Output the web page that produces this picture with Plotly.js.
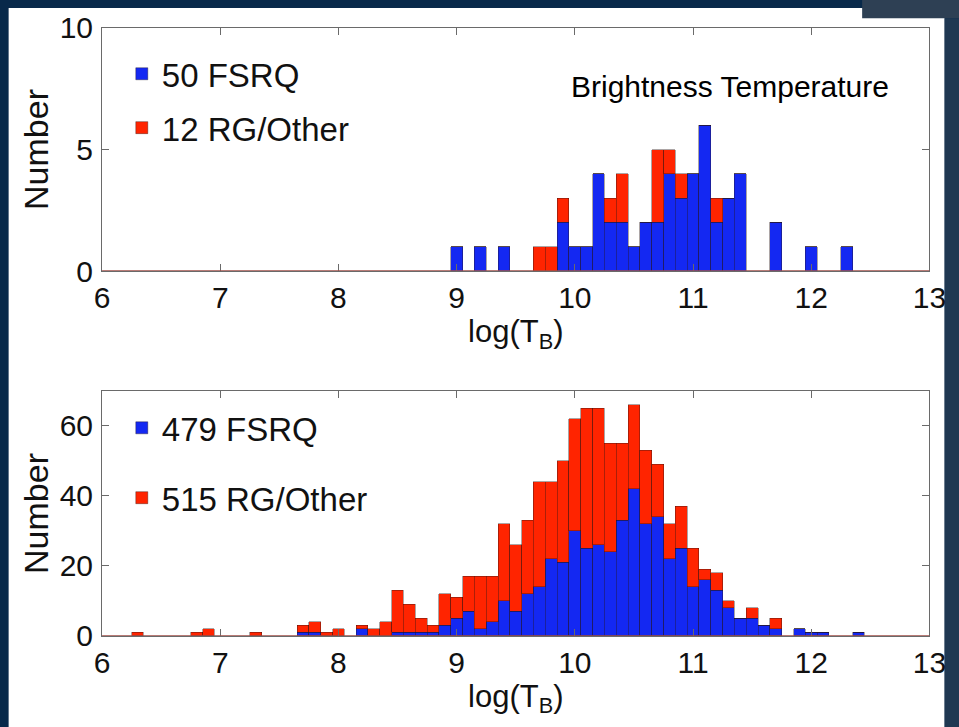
<!DOCTYPE html>
<html>
<head>
<meta charset="utf-8">
<script src="https://cdn.plot.ly/plotly-3.0.1.min.js"></script>
<style>
  html, body { margin: 0; padding: 0; background: #08294a; }
  #chart { width: 959px; height: 727px; }
</style>
</head>
<body>
<div id="chart"></div>
<script>
// Brightness temperature histograms, bin width 0.1 in log(T_B), centres listed.

// Upper panel: VLBI-detected sample
const topBins  = [9.0, 9.2, 9.4, 9.7, 9.8, 9.9, 10.0, 10.1, 10.2, 10.3, 10.4, 10.5,
                  10.6, 10.7, 10.8, 10.9, 11.0, 11.1, 11.2, 11.3, 11.4, 11.7, 12.0, 12.3];
const topFsrq  = [1, 1, 1, 0, 0, 2, 1, 1, 4, 2, 2, 1,
                  2, 2, 4, 3, 4, 6, 2, 3, 4, 2, 1, 1];
const topOther = [0, 0, 0, 1, 1, 1, 0, 0, 0, 1, 2, 0,
                  0, 3, 1, 1, 0, 0, 1, 0, 0, 0, 0, 0];

// Lower panel: full sample
const botBins  = [6.3, 6.8, 6.9, 7.3, 7.7, 7.8, 7.9, 8.0, 8.2, 8.3, 8.4,
                  8.5, 8.6, 8.7, 8.8, 8.9, 9.0, 9.1, 9.2, 9.3, 9.4, 9.5, 9.6, 9.7, 9.8, 9.9,
                  10.0, 10.1, 10.2, 10.3, 10.4, 10.5, 10.6, 10.7, 10.8, 10.9, 11.0, 11.1,
                  11.2, 11.3, 11.4, 11.5, 11.6, 11.7, 11.9, 12.0, 12.1, 12.4];
const botFsrq  = [0, 0, 0, 0, 1, 1, 0, 0, 2, 0, 0,
                  1, 1, 1, 1, 3, 5, 7, 2, 4, 10, 7, 12, 14, 22, 21,
                  30, 25, 26, 24, 33, 42, 32, 34, 22, 25, 14, 16,
                  13, 8, 5, 5, 3, 2, 2, 1, 1, 1];
const botOther = [1, 1, 2, 1, 2, 3, 1, 2, 1, 2, 4,
                  12, 8, 4, 2, 9, 6, 10, 15, 13, 22, 19, 21, 30, 22, 29,
                  32, 40, 39, 31, 22, 24, 21, 15, 10, 12, 11, 3,
                  5, 2, 0, 3, 0, 3, 0, 0, 0, 0];

const xTicks = [6, 7, 8, 9, 10, 11, 12, 13];
const topYTicks = [0, 5, 10];
const botYTicks = [0, 20, 40, 60];

const BLUE = '#1428f2';
const RED = '#ff2400';
const FONT = 'Liberation Sans, Arial, Helvetica, sans-serif';
const sum = a => a.reduce((s, v) => s + v, 0);

const edge = { color: 'rgba(40,20,20,0.55)', width: 0.7 };

function bars(x, y, name, color, xa, ya, legend, group) {
  return {
    type: 'bar', x: x, y: y, name: name, width: 0.1,
    marker: { color: color, line: edge },
    xaxis: xa, yaxis: ya, legend: legend, legendgroup: group,
    hoverinfo: 'x+y+name'
  };
}

const data = [
  bars(topBins, topFsrq, sum(topFsrq) + ' FSRQ', BLUE, 'x', 'y', 'legend', 'a'),
  bars(topBins, topOther, sum(topOther) + ' RG/Other', RED, 'x', 'y', 'legend', 'b'),
  bars(botBins, botFsrq, sum(botFsrq) + ' FSRQ', BLUE, 'x2', 'y2', 'legend2', 'c'),
  bars(botBins, botOther, sum(botOther) + ' RG/Other', RED, 'x2', 'y2', 'legend2', 'd')
];

const axisLine = {
  showline: true, linecolor: '#6a6a6a', linewidth: 1, mirror: 'ticks',
  ticks: 'inside', ticklen: 7, tickcolor: '#6a6a6a', tickwidth: 1,
  showgrid: false, zeroline: false,
  tickfont: { family: FONT, size: 30, color: '#111' }
};

function xAxis(anchor) {
  return Object.assign({}, axisLine, {
    anchor: anchor, range: [6, 13], tickvals: xTicks,
    domain: [0.1064, 0.9692],
    title: { text: 'log(T<sub>B</sub>)', font: { family: FONT, size: 31, color: '#111' }, standoff: 3 }
  });
}
function yAxis(anchor, range, ticks, domain) {
  return Object.assign({}, axisLine, {
    anchor: anchor, range: range, tickvals: ticks, domain: domain,
    ticklabelstandoff: 2,
    title: { text: 'Number', font: { family: FONT, size: 34, color: '#111' }, standoff: 0 }
  });
}

const legendFont = { family: FONT, size: 33, color: '#111' };

const layout = {
  width: 959, height: 727,
  margin: { l: 0, r: 0, t: 0, b: 0 },
  paper_bgcolor: '#08294a',
  plot_bgcolor: '#ffffff',
  barmode: 'stack',
  bargap: 0,
  showlegend: true,
  xaxis: xAxis('y'),
  yaxis: yAxis('x', [0, 10], topYTicks, [0.6272, 0.9615]),
  xaxis2: xAxis('y2'),
  yaxis2: yAxis('x2', [0, 70], botYTicks, [0.1252, 0.4622]),
  legend: {
    x: 0.127, y: 0.937, xanchor: 'left', yanchor: 'top',
    bgcolor: 'rgba(0,0,0,0)', font: legendFont,
    traceorder: 'grouped', tracegroupgap: 8
  },
  legend2: {
    x: 0.127, y: 0.450, xanchor: 'left', yanchor: 'top',
    bgcolor: 'rgba(0,0,0,0)', font: legendFont,
    traceorder: 'grouped', tracegroupgap: 24
  },
  annotations: [{
    text: 'Brightness Temperature', xref: 'x', yref: 'y', x: 11.31, y: 7.6,
    showarrow: false, font: { family: FONT, size: 30, color: '#000' }
  }],
  shapes: [
    // white slide panel behind the figure
    { type: 'rect', xref: 'paper', yref: 'paper', x0: 0.009, x1: 0.985, y0: 0, y1: 0.989,
      fillcolor: '#ffffff', line: { width: 0 }, layer: 'below' },
    { type: 'rect', xref: 'paper', yref: 'paper', x0: 0.899, x1: 1, y0: 0.975, y1: 1,
      fillcolor: '#2e4054', line: { width: 0 }, layer: 'below' },
    { type: 'rect', xref: 'paper', yref: 'paper', x0: 0.985, x1: 1, y0: 0, y1: 0.975,
      fillcolor: '#1f3852', line: { width: 0 }, layer: 'below' },
    // zero baselines of the histograms
    { type: 'line', xref: 'x', yref: 'y', x0: 6, x1: 13, y0: 0, y1: 0,
      line: { color: '#a0504a', width: 1.5 } },
    { type: 'line', xref: 'x2', yref: 'y2', x0: 6, x1: 13, y0: 0, y1: 0,
      line: { color: '#a0504a', width: 1.5 } }
  ]
};

Plotly.newPlot('chart', data, layout, { staticPlot: true, displayModeBar: false });
</script>
</body>
</html>
